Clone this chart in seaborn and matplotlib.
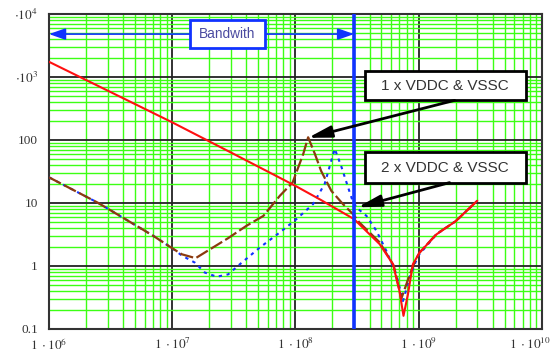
import numpy as np
import pandas as pd
import matplotlib
matplotlib.use("Agg")
import matplotlib.pyplot as plt
import matplotlib.transforms as mtransforms
import seaborn as sns
from matplotlib.patches import Rectangle

# ---------------- data ----------------
red_f = [1e6, 3e6, 1e7, 3e7, 1e8, 1.6e8, 3.0e8, 4.84e8, 6.2e8, 7.0e8, 7.55e8,
         8.2e8, 9.0e8, 1.02e9, 1.4e9, 2.0e9, 3.0e9]
red_z = [1740, 605, 190, 63, 18.6, 11.2, 5.5, 2.2, 1.06, 0.40, 0.16,
         0.35, 1.06, 1.62, 3.16, 5.1, 10.8]

brown_f = [1e6, 2.5e6, 7.0e6, 1e7, 1.2e7, 1.55e7, 2.85e7, 4.0e7, 5.5e7, 7.5e7,
           9.5e7, 1.16e8, 1.27e8, 1.44e8, 1.62e8, 1.96e8, 2.44e8, 2.94e8,
           3.3e8, 4.84e8, 6.3e8, 7.25e8, 8.5e8, 9.5e8, 1.02e9, 1.4e9, 2.0e9, 3.0e9]
brown_z = [25.4, 10.0, 3.0, 1.9, 1.52, 1.32, 2.75, 4.3, 6.2, 13,
           21, 60, 110, 60, 32, 15.5, 9.5, 6.6,
           4.9, 2.35, 1.0, 0.30, 0.73, 1.26, 1.62, 3.2, 5.1, 10.8]

blue_f = [1e6, 2.5e6, 7.0e6, 1e7, 1.2e7, 1.53e7, 1.84e7, 2.3e7, 2.85e7, 3.55e7,
          5.15e7, 7.5e7, 1.02e8, 1.39e8, 1.73e8, 1.96e8, 2.09e8, 2.37e8, 2.68e8,
          2.94e8, 3.23e8, 3.78e8, 4.55e8, 5.48e8, 6.6e8, 7.48e8, 8.47e8, 9.9e8,
          1.4e9, 2.0e9, 3.0e9]
blue_z = [25.4, 10.0, 3.0, 1.9, 1.45, 1.12, 0.78, 0.67, 0.73, 1.06,
          1.95, 3.4, 5.5, 9.5, 20, 47, 72, 37, 17.6,
          10.2, 8.0, 6.2, 3.6, 1.72, 0.73, 0.275, 0.65, 1.43,
          3.16, 5.1, 10.8]

bandwidth_edge = 3e8
x_ticks = [1e6, 1e7, 1e8, 1e9, 1e10]
x_tick_labels = [r"$1\ \cdot 10^{6}$", r"$1\ \cdot 10^{7}$", r"$1\ \cdot 10^{8}$",
                 r"$1\ \cdot 10^{9}$", r"$1\ \cdot 10^{10}$"]
y_ticks = [0.1, 1, 10, 100, 1e3, 1e4]
y_tick_labels = ["0.1", "1", "10", "100", r"$\cdot 10^{3}$", r"$\cdot 10^{4}$"]
label_1x = "1 x VDDC & VSSC"
label_2x = "2 x VDDC & VSSC"
label_bw = "Bandwith"

# ---------------- style ----------------
sns.set_style("white")
plt.rcParams["font.family"] = ["Liberation Sans", "DejaVu Sans"]
plt.rcParams["mathtext.fontset"] = "stix"

fig = plt.figure(figsize=(5.53, 3.56), dpi=100)
ax = fig.add_axes([49 / 553, 1 - 328.7 / 356, (541.7 - 49) / 553, (328.7 - 14) / 356])

ax.set_xscale("log")
ax.set_yscale("log")
ax.set_xlim(1e6, 1e10)
ax.set_ylim(0.1, 1e4)

green = "#3cff14"
ax.set_axisbelow(True)
ax.grid(which="minor", color=green, lw=1.0)
ax.grid(which="major", color="#222222", lw=1.3)
ax.minorticks_on()
ax.xaxis.set_minor_locator(matplotlib.ticker.LogLocator(base=10, subs=np.arange(2, 10), numticks=100))
ax.yaxis.set_minor_locator(matplotlib.ticker.LogLocator(base=10, subs=np.arange(2, 10), numticks=100))
ax.xaxis.set_minor_formatter(matplotlib.ticker.NullFormatter())
ax.yaxis.set_minor_formatter(matplotlib.ticker.NullFormatter())

ax.set_xticks(x_ticks)
ax.set_xticklabels(x_tick_labels)
ax.set_yticks(y_ticks)
ax.set_yticklabels(y_tick_labels)
ax.tick_params(which="both", length=0)
ax.tick_params(axis="x", pad=6, labelsize=9.5)
ax.tick_params(axis="y", pad=8, labelsize=9.5)
for lab in ax.get_xticklabels() + ax.get_yticklabels():
    lab.set_family("Liberation Serif")
    lab.set_color("#333333")
# keep the last x label inside the picture
last = ax.get_xticklabels()[-1]
last.set_transform(last.get_transform() +
                   mtransforms.ScaledTranslation(-0.12, 0, fig.dpi_scale_trans))

for s in ax.spines.values():
    s.set_color("#333333")
    s.set_linewidth(1.5)

# ---------------- curves ----------------
df_red = pd.DataFrame({"f": red_f, "z": red_z})
df_brown = pd.DataFrame({"f": brown_f, "z": brown_z})
df_blue = pd.DataFrame({"f": blue_f, "z": blue_z})

sns.lineplot(data=df_blue, x="f", y="z", ax=ax, color="#1133ff", lw=1.5,
             linestyle=(0, (1.6, 2.2)), estimator=None, sort=False, zorder=3)
sns.lineplot(data=df_brown, x="f", y="z", ax=ax, color="#8b3a0f", lw=1.6,
             linestyle=(0, (6, 1.6)), estimator=None, sort=False, zorder=4)
sns.lineplot(data=df_red, x="f", y="z", ax=ax, color="#ff1010", lw=1.5,
             estimator=None, sort=False, zorder=5)

ax.axvline(bandwidth_edge, color="#1133ff", lw=2.6, zorder=6)
ax.set_xlabel("")
ax.set_ylabel("")

# ---------------- annotations ----------------
def lp(lf, lz):
    return 10 ** lf, 10 ** lz

# bandwidth arrow
y_bw = 10 ** 3.681
ax.annotate("", xy=(1e6, y_bw), xytext=(bandwidth_edge, y_bw),
            arrowprops=dict(arrowstyle="<|-|>,head_length=1.0,head_width=0.35",
                            color="#1133ff", lw=1.2, shrinkA=0, shrinkB=0),
            zorder=7)
x0, x1 = 10 ** 7.144, 10 ** 7.752
y0, y1 = 10 ** 3.458, 10 ** 3.904
ax.add_patch(Rectangle((x0, y0), x1 - x0, y1 - y0, facecolor="white",
                       edgecolor="#1133ff", lw=2.0, zorder=8))
ax.text(10 ** 7.448, 10 ** 3.681, label_bw, ha="center", va="center",
        fontsize=9.8, color="#4a4aa0", zorder=9)

# 1x box
bx0, bx1 = 10 ** 8.563, 10 ** 9.869
ax.add_patch(Rectangle((bx0, 10 ** 2.628), bx1 - bx0, 10 ** 3.096 - 10 ** 2.628,
                       facecolor="white", edgecolor="black", lw=2.0, zorder=8))
ax.text(10 ** 9.216, 10 ** 2.861, label_1x, ha="center", va="center",
        fontsize=11, color="#333333", zorder=9)
ax.annotate("", xy=lp(8.103, 2.033), xytext=lp(9.293, 2.628),
            arrowprops=dict(arrowstyle="-|>,head_length=1.4,head_width=0.35",
                            color="black", lw=2.0, shrinkA=0, shrinkB=0),
            zorder=8)

# 2x box
ax.add_patch(Rectangle((bx0, 10 ** 1.321), bx1 - bx0, 10 ** 1.804 - 10 ** 1.321,
                       facecolor="white", edgecolor="black", lw=2.0, zorder=8))
ax.text(10 ** 9.216, 10 ** 1.561, label_2x, ha="center", va="center",
        fontsize=11, color="#333333", zorder=9)
ax.annotate("", xy=lp(8.506, 0.930), xytext=lp(9.252, 1.321),
            arrowprops=dict(arrowstyle="-|>,head_length=1.4,head_width=0.35",
                            color="black", lw=2.0, shrinkA=0, shrinkB=0),
            zorder=8)

fig.savefig("out.png", dpi=100)
